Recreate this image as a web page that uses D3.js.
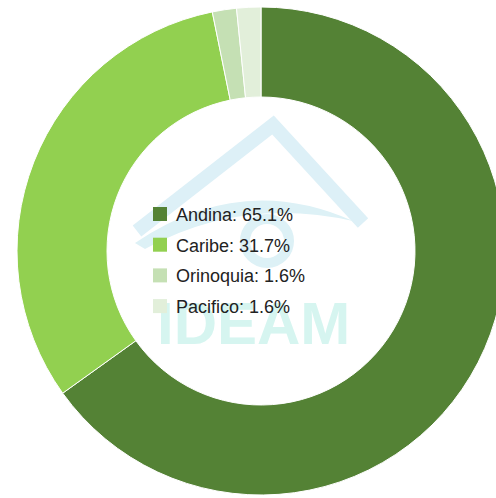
<!DOCTYPE html>
<html>
<head>
<meta charset="utf-8">
<script src="https://cdn.jsdelivr.net/npm/d3@7/dist/d3.min.js"></script>
<style>
  body { margin: 0; background: #fff; }
  svg { display: block; }
</style>
</head>
<body>
<svg id="donut" width="496" height="498"></svg>
<script>
// regions and their share
var regions = ["Andina", "Caribe", "Orinoquia", "Pacifico"];
var shares = [65.1, 31.7, 1.6, 1.6];
var colors = ["#548235", "#92d050", "#c5e0b4", "#e2efda"];

function donutVisual() {
    var svg = d3.select("#donut"),
        cx = 261, cy = 251,
        outer = 244, inner = 154;

    var data = regions.map((r, i) => ({ region: r, share: shares[i], color: colors[i] }));

    var pie = d3.pie().sort(null).value(d => d.share);
    var arc = d3.arc().innerRadius(inner).outerRadius(outer);

    var g = svg.append("g")
        .attr("transform", "translate(" + cx + "," + cy + ")");

    g.selectAll("path.slice")
        .data(pie(data))
        .enter()
        .append("path")
        .attr("class", "slice")
        .attr("d", arc)
        .attr("fill", d => d.data.color)
        .attr("stroke", "#fff")
        .attr("stroke-width", 1);

    // faint IDEAM watermark in the hole
    var wm = g.append("g").attr("class", "watermark");
    wm.append("path")
        .attr("d", "M-124,-20 L12,-126 L102,-28")
        .attr("fill", "none")
        .attr("stroke", "#ddf0f7")
        .attr("stroke-width", 14);
    wm.append("path")
        .attr("d", "M-126,-8 Q-20,-80 92,-30 Q-20,-55 -116,-2 Z")
        .attr("fill", "#ddf1f6");
    wm.append("circle")
        .attr("cx", 6).attr("cy", -10).attr("r", 22)
        .attr("fill", "none")
        .attr("stroke", "#ddf1f6")
        .attr("stroke-width", 10);
    wm.append("text")
        .attr("x", -104).attr("y", 93)
        .attr("font-family", "Liberation Sans, Arial, sans-serif")
        .attr("font-size", 60)
        .attr("font-weight", "bold")
        .attr("fill", "#d6f5f0")
        .text("IDEAM");

    // legend
    var legend = svg.append("g")
        .attr("transform", "translate(153,207)");
    var rows = legend.selectAll("g.row")
        .data(data)
        .enter()
        .append("g")
        .attr("class", "row")
        .attr("transform", (d, i) => "translate(0," + (i * 30.7) + ")");
    rows.append("rect")
        .attr("width", 14)
        .attr("height", 14)
        .attr("fill", d => d.color);
    rows.append("text")
        .attr("x", 23)
        .attr("y", 14)
        .attr("font-family", "Liberation Sans, Arial, sans-serif")
        .attr("font-size", 18)
        .attr("fill", "#222")
        .text(d => d.region + ": " + d.share.toFixed(1) + "%");
}

donutVisual();
</script>
</body>
</html>
